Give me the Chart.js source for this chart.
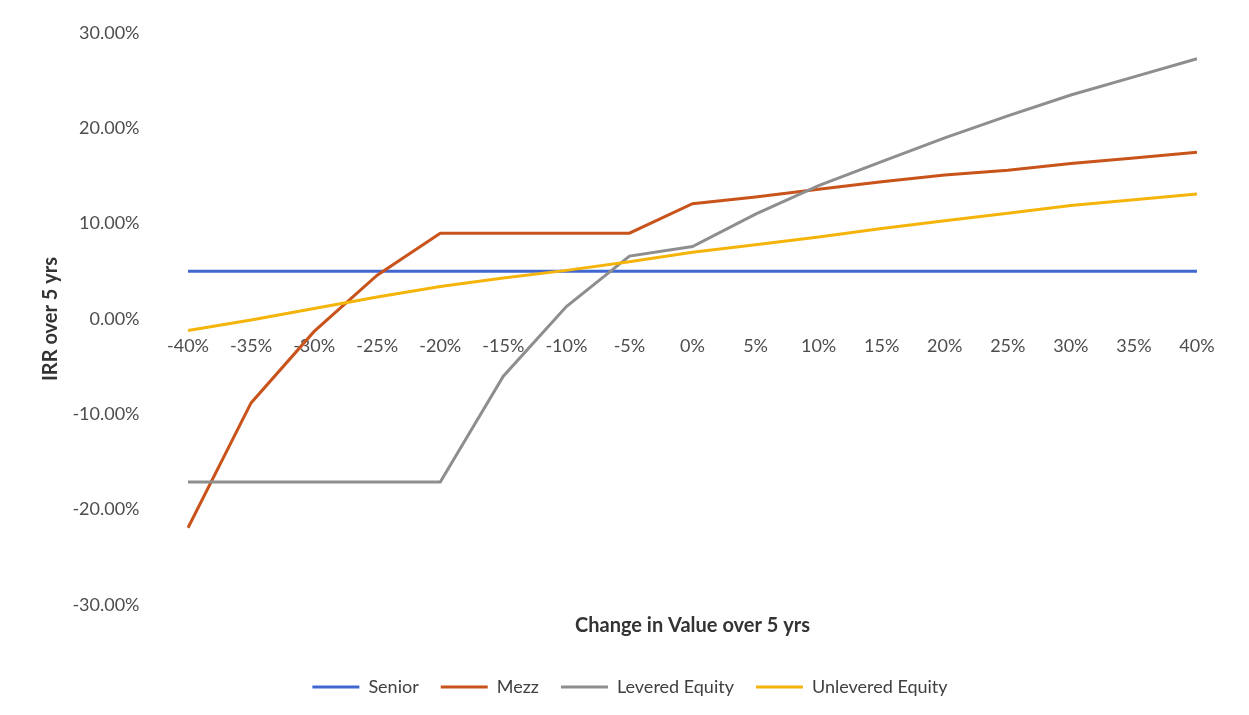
<!DOCTYPE html>
<html>
<head>
<meta charset="utf-8">
<title>IRR over 5 yrs</title>
<script src="https://cdn.jsdelivr.net/npm/chart.js@4.4.1/dist/chart.umd.min.js"></script>
<style>
  html, body { margin: 0; padding: 0; background: #ffffff; }
  #wrap { width: 1249px; height: 715px; position: relative; }
</style>
</head>
<body>
<div id="wrap"><canvas id="chart" width="1249" height="715"></canvas></div>
<script>
// Change in asset value over 5 years (categories)
const valueChanges = ['-40%', '-35%', '-30%', '-25%', '-20%', '-15%', '-10%', '-5%', '0%',
  '5%', '10%', '15%', '20%', '25%', '30%', '35%', '40%'];

// IRR over 5 years, in percent, for each tranche
const senior = [5, 5, 5, 5, 5, 5, 5, 5, 5, 5, 5, 5, 5, 5, 5, 5, 5];
const mezz = [-21.9, -8.8, -1.3, 4.6, 9.0, 9.0, 9.0, 9.0, 12.1, 12.8, 13.6, 14.4, 15.1, 15.6, 16.3, 16.9, 17.5];
const leveredEquity = [-17.1, -17.1, -17.1, -17.1, -17.1, -6.0, 1.3, 6.6, 7.6, 11.0, 14.0, 16.5, 19.0, 21.3, 23.5, 25.4, 27.3];
const unleveredEquity = [-1.2, -0.1, 1.1, 2.3, 3.4, 4.3, 5.1, 6.0, 7.0, 7.8, 8.6, 9.5, 10.3, 11.1, 11.9, 12.5, 13.1];

// y-axis range and tick step, in percent
const yMin = -30;
const yMax = 30;
const yStep = 10;

const FONT = 'Lato, "Open Sans", "Noto Sans", sans-serif';

function line(label, data, color, order) {
  return {
    label: label,
    data: data,
    borderColor: color,
    backgroundColor: color,
    borderWidth: 3,
    pointRadius: 0,
    pointHoverRadius: 0,
    tension: 0,
    fill: false,
    order: order
  };
}

new Chart(document.getElementById('chart'), {
  type: 'line',
  data: {
    labels: valueChanges,
    datasets: [
      line('Senior', senior, '#4066D0', 4),
      line('Mezz', mezz, '#C8531B', 3),
      line('Levered Equity', leveredEquity, '#8E8E8E', 2),
      line('Unlevered Equity', unleveredEquity, '#F5B40A', 1)
    ]
  },
  options: {
    responsive: false,
    animation: false,
    events: [],
    layout: {
      padding: { left: 31.5, right: 20.5, top: 33, bottom: 9 }
    },
    scales: {
      x: {
        type: 'category',
        offset: true,
        position: { y: 0 },
        grid: { display: false, drawTicks: false },
        border: { display: false },
        ticks: {
          color: '#4d4d4d',
          font: { family: FONT, size: 18 },
          padding: 16,
          maxRotation: 0,
          autoSkip: false
        }
      },
      y: {
        min: yMin,
        max: yMax,
        grid: { display: false, drawTicks: false },
        border: { display: false },
        afterFit: function (scale) { scale.width = 125; },
        ticks: {
          stepSize: yStep,
          color: '#4d4d4d',
          font: { family: FONT, size: 18 },
          padding: 17,
          callback: function (v) { return v.toFixed(2) + '%'; }
        },
        title: {
          display: true,
          text: 'IRR over 5 yrs',
          color: '#333333',
          font: { family: FONT, size: 20, weight: 'bold' },
          padding: { top: 7, bottom: 0 }
        }
      }
    },
    plugins: {
      tooltip: { enabled: false },
      title: {
        display: true,
        text: 'Change in Value over 5 yrs',
        position: 'bottom',
        fullSize: false,
        weight: 500,
        color: '#333333',
        font: { family: FONT, size: 20, weight: 'bold' },
        padding: { top: 9, bottom: 18 }
      },
      legend: {
        display: true,
        position: 'bottom',
        reverse: true,
        labels: {
          usePointStyle: true,
          pointStyle: 'line',
          pointStyleWidth: 47,
          padding: 22,
          color: '#404040',
          font: { family: FONT, size: 18 }
        }
      }
    }
  }
});
</script>
</body>
</html>
